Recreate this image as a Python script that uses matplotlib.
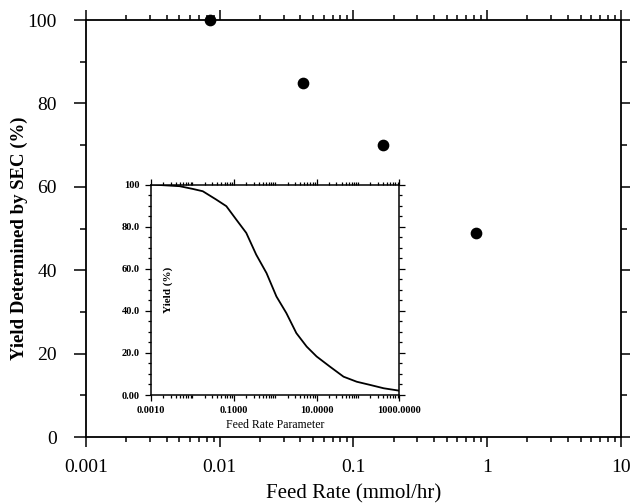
import numpy as np
import matplotlib
matplotlib.use("Agg")
import matplotlib.pyplot as plt
from matplotlib.ticker import LogLocator, FixedLocator, NullFormatter, MultipleLocator

plt.rcParams['font.family'] = ['Liberation Serif', 'DejaVu Serif']

# main data: yield vs feed rate
feed_rate = [0.00845, 0.0417, 0.167, 0.824]
yield_sec = [100, 85, 70, 49]

# inset: simulated yield vs feed rate parameter
param = [0.001, 0.0049, 0.0102, 0.0178, 0.0372, 0.066, 0.115, 0.2, 0.347,
         0.617, 1.07, 1.86, 3.24, 5.75, 10.0, 20.9, 44.7, 93.3, 195, 417, 955]
yield_sim = [100, 99.2, 97.9, 96.8, 92.9, 89.7, 83.3, 77.0, 66.7,
             57.9, 46.8, 38.9, 29.4, 23.0, 18.3, 13.5, 8.7, 6.3, 4.8, 3.2, 2.1]

main_xticks = [0.001, 0.01, 0.1, 1, 10]
main_xlabels = ['0.001', '0.01', '0.1', '1', '10']
main_yticks = [0, 20, 40, 60, 80, 100]

inset_xticks = [0.001, 0.1, 10, 1000]
inset_xlabels = ['0.0010', '0.1000', '10.0000', '1000.0000']
inset_yticks = [0, 20, 40, 60, 80, 100]
inset_ylabels = ['0.00', '20.0', '40.0', '60.0', '80.0', '100']

fig = plt.figure(figsize=(6.3, 5.03), dpi=100)
ax = fig.add_axes([0.1365, 0.1312, 0.849, 0.829])

ax.scatter(feed_rate, yield_sec, s=55, color='black', zorder=3, clip_on=False)
ax.set_xscale('log')
ax.set_xlim(0.001, 10)
ax.set_ylim(0, 100)
ax.set_xticks(main_xticks)
ax.set_xticklabels(main_xlabels)
ax.xaxis.set_minor_locator(LogLocator(base=10, subs=np.arange(2, 10)))
ax.xaxis.set_minor_formatter(NullFormatter())
ax.set_yticks(main_yticks)
ax.yaxis.set_minor_locator(MultipleLocator(10))

ax.tick_params(which='both', direction='out', top=True, right=True,
               labelsize=14, width=1.1)
ax.tick_params(axis='x', which='major', length=7, pad=9)
ax.tick_params(axis='x', which='minor', length=3.5)
ax.tick_params(axis='y', which='major', length=9, pad=12)
ax.tick_params(axis='y', which='minor', length=4.5)
for sp in ax.spines.values():
    sp.set_linewidth(1.3)

ax.set_xlabel('Feed Rate (mmol/hr)', fontsize=15, labelpad=6)
ax.set_ylabel('Yield Determined by SEC (%)', fontsize=13.5, fontweight='bold')
ax.yaxis.set_label_coords(-0.108, 0.477)

# inset
ins = fig.add_axes([0.2397, 0.2147, 0.3943, 0.4185])
ins.plot(param, yield_sim, color='black', lw=1.3)
ins.set_xscale('log')
ins.set_xlim(0.001, 1000)
ins.set_ylim(0, 100)
ins.xaxis.set_major_locator(FixedLocator(inset_xticks))
ins.set_xticklabels(inset_xlabels)
ins.xaxis.set_minor_locator(LogLocator(base=10, subs=np.arange(1, 10), numticks=20))
ins.xaxis.set_minor_formatter(NullFormatter())
ins.set_yticks(inset_yticks)
ins.set_yticklabels(inset_ylabels)
ins.yaxis.set_minor_locator(MultipleLocator(5))
ins.tick_params(which='both', direction='out', top=True, right=True,
                labelsize=7.5, width=0.9, pad=4)
ins.tick_params(which='major', length=4)
ins.tick_params(which='minor', length=2)
for lab in ins.get_xticklabels() + ins.get_yticklabels():
    lab.set_fontweight('bold')
for sp in ins.spines.values():
    sp.set_linewidth(1.1)
ins.set_xlabel('Feed Rate Parameter', fontsize=8.5, labelpad=3)
ins.set_ylabel('Yield (%)', fontsize=8, fontweight='bold')
ins.yaxis.set_label_coords(0.09, 0.5)

fig.savefig('out.png', dpi=100)
